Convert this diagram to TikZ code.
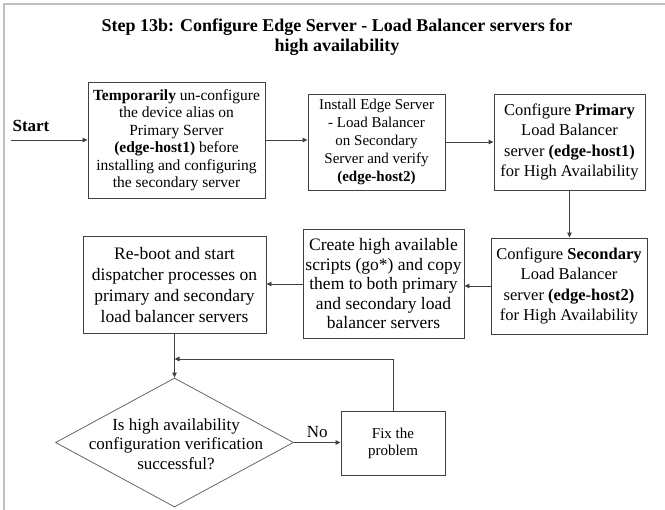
\documentclass[tikz,border=0pt]{standalone}
\usepackage{fontspec}
\setmainfont{Liberation Serif}
\usetikzlibrary{arrows.meta,shapes.geometric}
\definecolor{linec}{HTML}{404040}
\definecolor{framec}{HTML}{C0C0C0}
\begin{document}
\begin{tikzpicture}[x=1pt,y=-1pt,
  stepbox/.style={draw=linec,line width=0.9pt,rectangle,inner sep=0pt,align=center,text=black},
  conn/.style={draw=linec,line width=0.9pt,-{Triangle[length=5pt,width=4.5pt]}},
  fA/.style={font=\fontsize{15.5}{17.5}\selectfont},
  fB/.style={font=\fontsize{15}{18}\selectfont},
  fC/.style={font=\fontsize{16.5}{20.5}\selectfont},
  fD/.style={font=\fontsize{17.5}{19.5}\selectfont},
  fE/.style={font=\fontsize{17.5}{20.8}\selectfont}]
\useasboundingbox (0,0) rectangle (665,510);
% frame
\draw[framec,line width=1.5pt] (4,510) -- (4,4) -- (665,4);
% title
\node[font=\bfseries\fontsize{18}{19.5}\selectfont,align=center] (title) at (337,37)
  {Step 13b: Configure Edge Server - Load Balancer servers for\\high availability};
% start
\node[font=\bfseries\fontsize{17}{19}\selectfont] (start) at (31,126) {Start};
\coordinate (s0) at (11,140);
% boxes
\node[stepbox,fA,minimum width=177pt,minimum height=116pt] (b1) at (176.5,140)
  {\textbf{Temporarily} un-configure\\the device alias on\\Primary Server\\\textbf{(edge-host1)} before\\installing and configuring\\the secondary server};
\node[stepbox,fB,minimum width=137pt,minimum height=96pt] (b2) at (376.5,142)
  {Install Edge Server\\- Load Balancer\\on Secondary\\Server and verify\\\textbf{(edge-host2)}};
\node[stepbox,fC,minimum width=151pt,minimum height=96pt] (b3) at (569.5,142)
  {Configure \textbf{Primary}\\Load Balancer\\server \textbf{(edge-host1)}\\for High Availability};
\node[stepbox,fC,minimum width=156pt,minimum height=96pt] (b4) at (569,286)
  {Configure \textbf{Secondary}\\Load Balancer\\server \textbf{(edge-host2)}\\for High Availability};
\node[stepbox,fD,minimum width=161pt,minimum height=109pt] (b5) at (383.5,284)
  {Create high available\\scripts (go*) and copy\\them to both primary\\and secondary load\\balancer servers};
\node[stepbox,fE,minimum width=183pt,minimum height=97pt] (b6) at (174.5,285)
  {Re-boot and start\\dispatcher processes on\\primary and secondary\\load balancer servers};
% decision
\node[diamond,draw=linec!80,line width=0.8pt,minimum width=238pt,minimum height=129pt,inner sep=0pt] (d) at (174.5,442.5) {};
\node[align=center,font=\fontsize{17}{19.5}\selectfont] (dtext) at (176,444)
  {Is high availability\\configuration verification\\successful?};
\node[stepbox,font=\fontsize{15}{17}\selectfont,minimum width=104pt,minimum height=64pt] (f) at (393,443)
  {Fix the\\problem};
\coordinate (j) at (174.5,359);
% connectors
\draw[conn] (s0) -- (b1.west);
\draw[conn] (b1.east) -- (b1.east -| b2.west);
\draw[conn] (b2.east) -- (b2.east -| b3.west);
\draw[conn] (b3.south) -- (b3.south |- b4.north);
\draw[conn] (b4.west) -- (b4.west -| b5.east);
\draw[conn] (b5.west) -- (b5.west -| b6.east);
\draw[conn] (b6.south) -- (d.north);
\draw[conn] (d.east) -- node[above,font=\fontsize{17}{19}\selectfont,yshift=1pt] (no) {No} (d.east -| f.west);
\draw[conn] (f.north) |- (j);
\end{tikzpicture}
\end{document}
